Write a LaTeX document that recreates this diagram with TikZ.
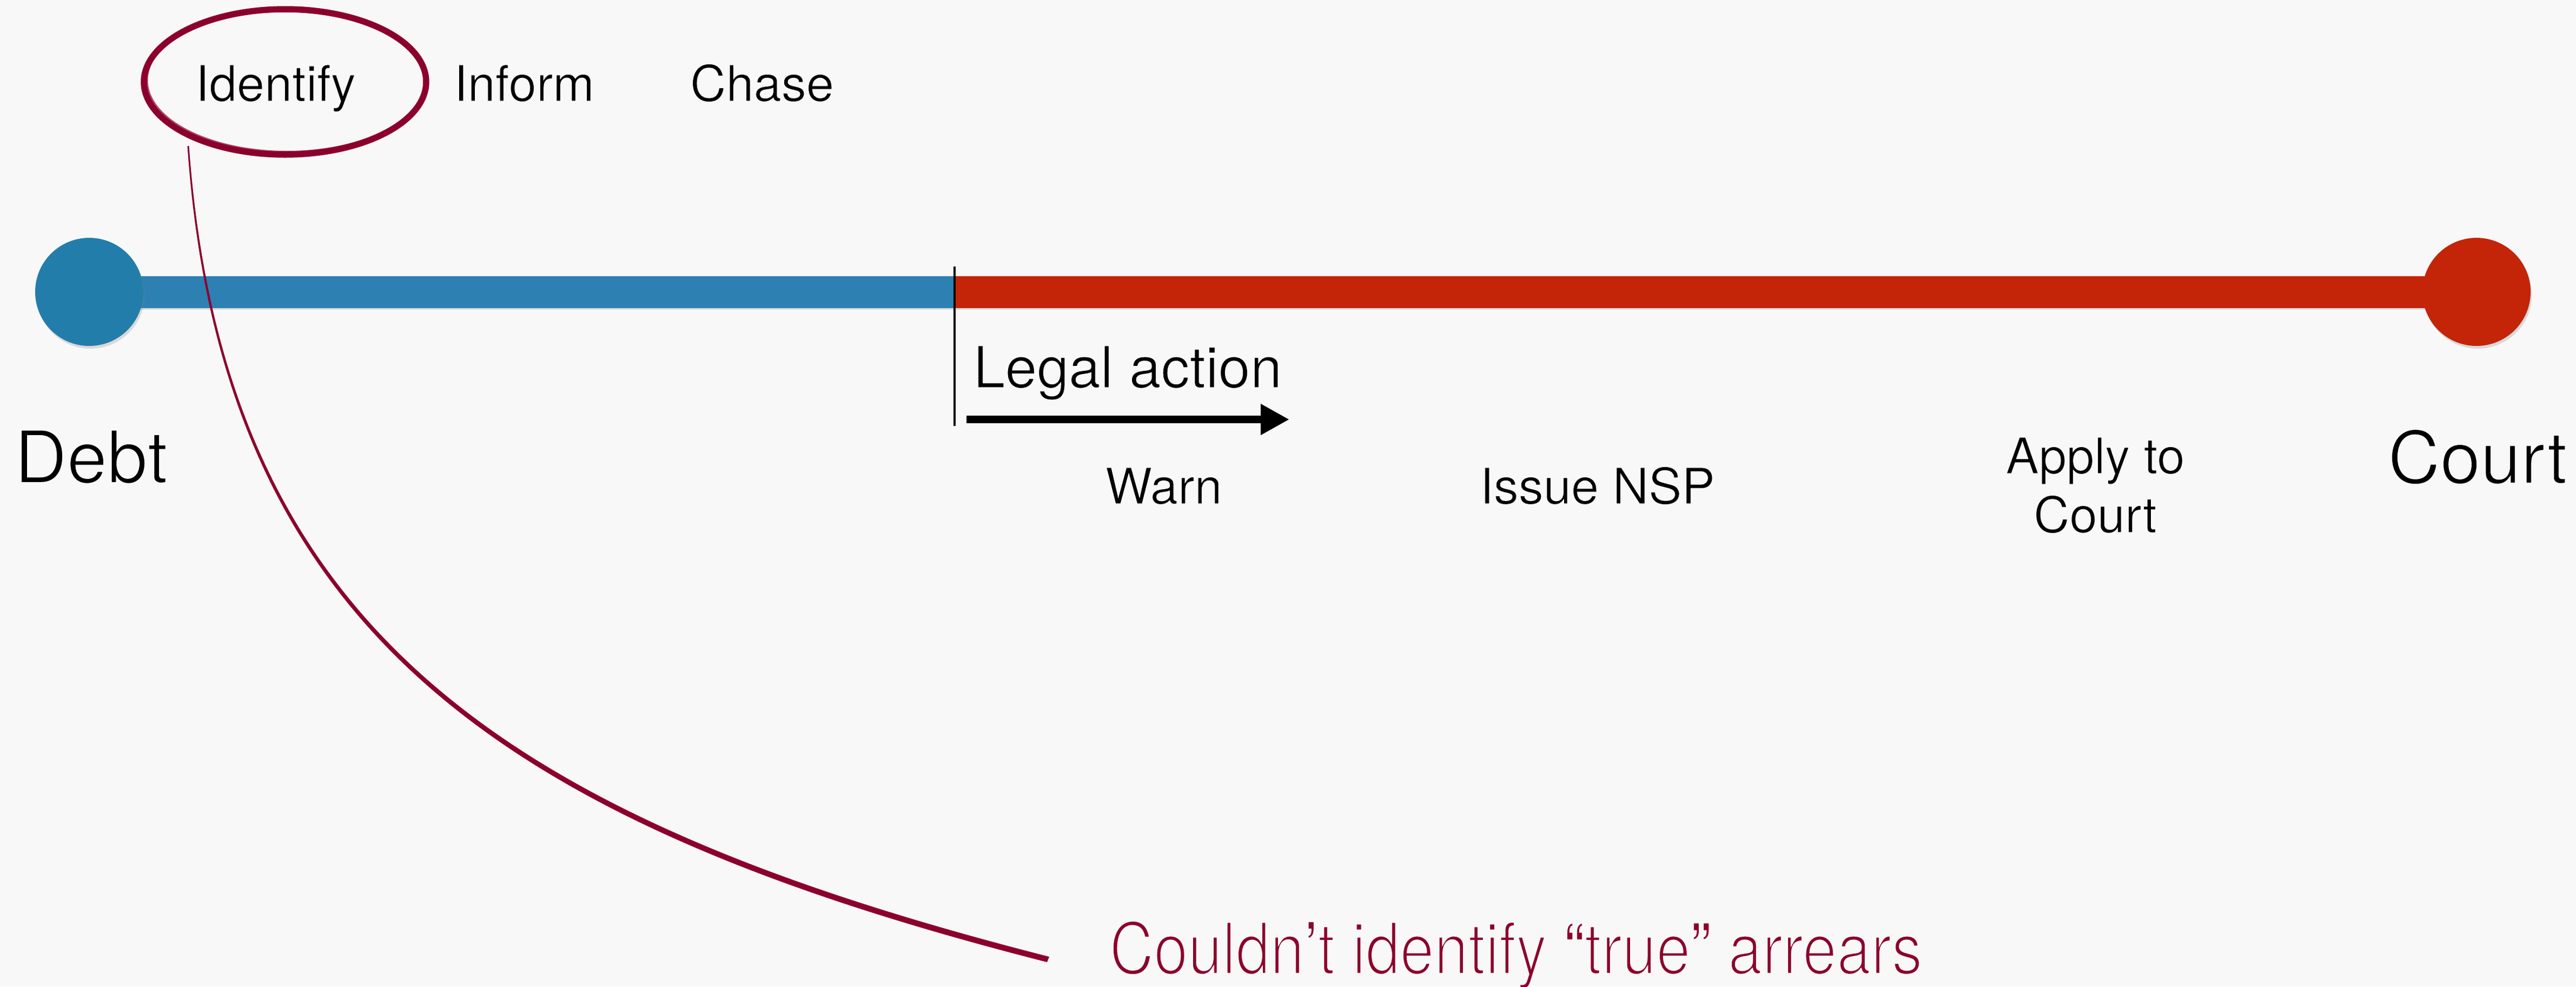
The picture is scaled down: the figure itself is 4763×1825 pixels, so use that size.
\documentclass[tikz,border=0pt]{standalone}
\usepackage{fontspec}
\setmainfont{TeX Gyre Heros}
\usetikzlibrary{arrows.meta,shadows,shapes.geometric}
\definecolor{bgc}{HTML}{F8F8F8}
\definecolor{dotblue}{HTML}{237DAB}
\definecolor{barblue}{HTML}{2D80B2}
\definecolor{dotred}{HTML}{C42408}
\definecolor{annot}{HTML}{8C002D}
\newcommand\thintext[2]{\special{pdf:literal direct 0.9725 0.9725 0.9725 RG #1 w 2 Tr}#2\special{pdf:literal direct 0 Tr}}
\tikzset{
  dot/.style={circle, minimum size=20pt, inner sep=0pt,
    drop shadow={shadow xshift=0.25pt, shadow yshift=-0.5pt, opacity=0.25}},
  barshadow/.style={line width=5.9pt, black, opacity=0.12},
  bar/.style={line width=5.9pt},
  lbl/.style={inner sep=0pt, anchor=base, text=black},
  fsmall/.style={font=\fontsize{9.2pt}{10.9pt}\selectfont},
  fbig/.style={font=\fontsize{13.4pt}{16pt}\selectfont},
  fmid/.style={font=\fontsize{10.6pt}{13pt}\selectfont},
  ring/.style={draw=annot, ellipse, line width=1.15pt, inner sep=0pt,
    minimum width=52.2pt, minimum height=26.9pt},
}
\begin{document}
\begin{tikzpicture}[x=0.1pt,y=-0.1pt]
\fill[bgc] (0,0) rectangle (4763,1825);
\useasboundingbox (0,0) rectangle (4763,1825);

% timeline
\coordinate (split) at (1765,540);
\coordinate (debtc) at (165,540);
\coordinate (courtc) at (4579,540);
\draw[barshadow] ([yshift=-0.35pt]debtc) -- ([yshift=-0.35pt]courtc);
\draw[bar, barblue] (debtc) -- (split);
\draw[bar, dotred] (split) -- (courtc);
\node[dot, fill=dotblue] (debtdot) at (debtc) {};
\node[dot, fill=dotred] (courtdot) at (courtc) {};

% legal action marker
\coordinate (vtop) at (1765,493);
\coordinate (vbot) at (1765,788);
\draw[line width=0.4pt, black] (vtop) -- (vbot);
\coordinate (la1) at (1787,776);
\coordinate (la2) at (2384,776);
\draw[line width=1.4pt, -{Triangle[length=5.3pt, width=5.4pt]}] (la1) -- (la2);
\node[lbl, fmid] (legal) at (2085,717) {\thintext{0.15}{Legal action}};

% labels
\node[lbl, fsmall] (identify) at (509.5,187) {\thintext{0.12}{Identify}};
\node[lbl, fsmall] (inform) at (969,187) {\thintext{0.12}{Inform}};
\node[lbl, fsmall] (chase) at (1409,187) {\thintext{0.12}{Chase}};
\node[lbl, fbig] (debt) at (168.5,893) {\thintext{0.25}{Debt}};
\node[lbl, fbig] (court) at (4581,894) {\thintext{0.25}{Court}};
\node[lbl, fsmall] (warn) at (2151.5,932) {\thintext{0.12}{Warn}};
\node[lbl, fsmall] (nsp) at (2953.5,932) {\thintext{0.12}{Issue NSP}};
\node[lbl, fsmall, align=center] (apply) at (3874,985) {\thintext{0.12}{Apply to}\\\thintext{0.12}{Court}};

% annotation
\node[ring] (ringnode) at (527,151.5) {};
\draw[annot, line width=0.3pt, opacity=0.7] ([xshift=0.4pt,yshift=0.3pt]ringnode.center) ellipse [x radius=25.9pt, y radius=13.2pt];
\coordinate (cstart) at (348,270);
\coordinate (cend) at (1938,1775);
\fill[annot] (346.5,270) .. controls (408,1172) and (936,1525) .. (1936,1780)
  -- (1940,1770) .. controls (941,1515) and (414,1168) .. (349.5,270) -- cycle;
\node[lbl, text=annot, font=\fontsize{13.3pt}{16pt}\selectfont] (note) at (2803,1802)
  {\scalebox{0.855}[1]{\thintext{0.45}{Couldn}\thintext{0.15}{’}\thintext{0.45}{t identify }\thintext{0.15}{“}\thintext{0.45}{true}\thintext{0.15}{”}\thintext{0.45}{ arrears}}};
\end{tikzpicture}
\end{document}
